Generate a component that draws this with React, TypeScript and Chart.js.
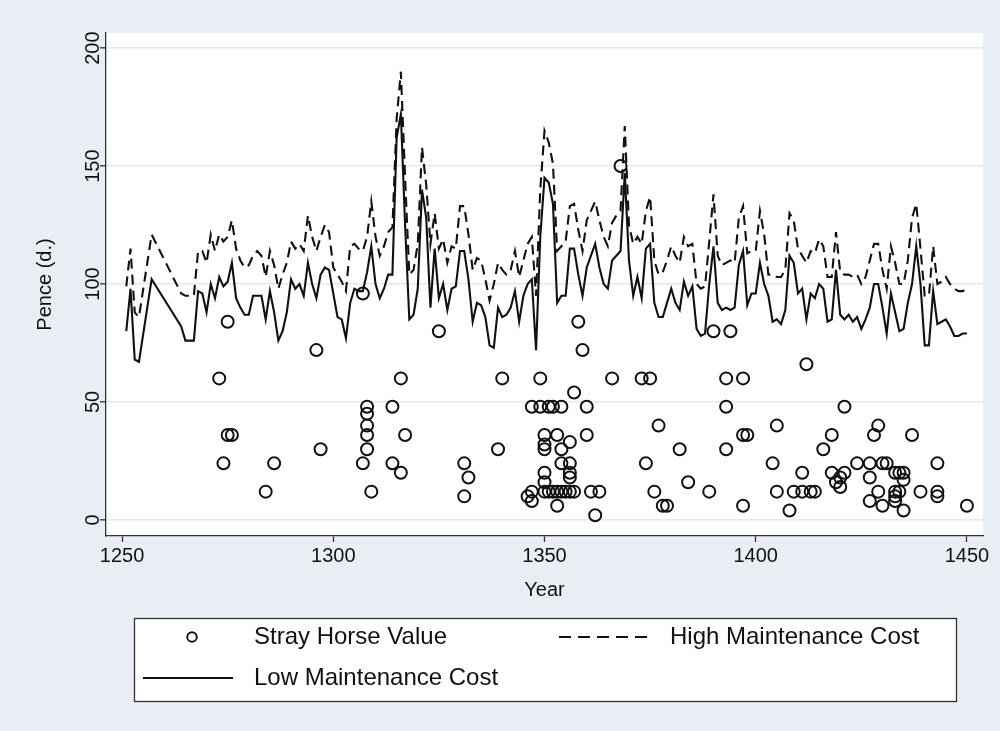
import React, { useEffect, useRef } from 'react';
import { Chart, registerables } from 'chart.js';

Chart.register(...registerables);

const FONT = "'Liberation Sans', Arial, Helvetica, sans-serif";

// ---- Data ----
const earlyYears = [1251, 1252, 1253, 1254, 1257, 1264, 1265, 1267];
const earlyLow = [80, 98, 68, 67, 102, 82, 76, 76];
const earlyHigh = [99, 115, 88, 86, 121, 96, 95, 95];

const annualYears = Array.from({ length: 1450 - 1268 + 1 }, (_, i) => 1268 + i);

// 1268 .. 1450, one value per year
const annualLow = [
  97, 96, 88,                                   // 1268-1270
  100, 94, 103, 99, 101, 109, 94, 90, 87, 87,   // 1271-1280
  95, 95, 95, 85, 97, 88, 76, 80, 88, 102,      // 1281-1290
  98, 100, 95, 109, 100, 94, 104, 107, 106, 96, // 1291-1300
  86, 85, 77, 92, 98, 97, 97, 105, 116, 100,    // 1301-1310
  94, 98, 104, 104, 162, 172, 125, 85, 87, 98,  // 1311-1320
  140, 128, 90, 115, 94, 100, 89, 98, 99, 114,  // 1321-1330
  114, 102, 84, 92, 91, 86, 74, 73, 90, 86,     // 1331-1340
  87, 90, 97, 84, 95, 100, 102, 72, 120, 145,   // 1341-1350
  143, 134, 92, 95, 95, 115, 115, 104, 95, 107, // 1351-1360
  112, 117, 107, 100, 98, 110, 112, 114, 147, 110, // 1361-1370
  95, 103, 94, 115, 117, 92, 86, 86, 92, 98,    // 1371-1380
  92, 89, 101, 95, 99, 81, 78, 79, 100, 116,    // 1381-1390
  92, 89, 90, 89, 90, 108, 114, 91, 96, 96,     // 1391-1400
  109, 100, 95, 84, 85, 83, 89, 112, 109, 96,   // 1401-1410
  98, 85, 96, 94, 100, 98, 84, 85, 106, 87,     // 1411-1420
  85, 87, 84, 86, 81, 85, 90, 100, 100, 90,     // 1421-1430
  79, 96, 88, 80, 81, 92, 100, 116, 100, 74,    // 1431-1440
  74, 97, 83, 84, 85, 82, 78, 78, 79, 79,       // 1441-1450
];

const annualHigh = [
  114, 114, 109,                                      // 1268-1270
  121, 114, 121, 118, 120, 127, 115, 110, 107, 108,   // 1271-1280
  112, 114, 112, 103, 114, 108, 98, 104, 109, 118,    // 1281-1290
  115, 117, 114, 129, 120, 114, 120, 125, 122, 107,   // 1291-1300
  104, 101, 97, 116, 117, 115, 114, 120, 135, 120,    // 1301-1310
  112, 116, 122, 124, 170, 190, 145, 104, 106, 117,   // 1311-1320
  158, 142, 117, 130, 115, 119, 109, 116, 115, 133,   // 1321-1330
  133, 121, 106, 111, 110, 102, 93, 100, 109, 106,    // 1331-1340
  104, 106, 114, 103, 110, 117, 120, 95, 140, 165,    // 1341-1350
  160, 151, 114, 116, 118, 133, 134, 123, 114, 127,   // 1351-1360
  131, 135, 127, 120, 116, 126, 129, 131, 167, 125,   // 1361-1370
  117, 120, 117, 131, 137, 110, 104, 105, 110, 116,   // 1371-1380
  112, 109, 120, 116, 117, 100, 98, 99, 118, 138,     // 1381-1390
  112, 108, 109, 110, 109, 128, 133, 113, 114, 114,   // 1391-1400
  131, 121, 104, 104, 103, 103, 106, 130, 127, 115,   // 1401-1410
  112, 109, 114, 113, 119, 116, 103, 103, 122, 105,   // 1411-1420
  104, 104, 103, 104, 100, 103, 110, 117, 117, 106,   // 1421-1430
  98, 116, 109, 100, 100, 110, 128, 134, 115, 95,     // 1431-1440
  95, 116, 100, 101, 103, 100, 98, 97, 97, 98,        // 1441-1450
];

const lineYears = [...earlyYears, ...annualYears];
const lowCost = [...earlyLow, ...annualLow];
const highCost = [...earlyHigh, ...annualHigh];

const strayYears = [
  1273, 1274, 1275, 1275, 1276, 1284, 1286, 1296, 1297, 1307,
  1307, 1308, 1308, 1308, 1308, 1308, 1309, 1314, 1314, 1316,
  1316, 1317, 1325, 1331, 1331, 1332, 1339, 1340, 1346, 1347,
  1347, 1347, 1349, 1349, 1350, 1350, 1350, 1350, 1350, 1350,
  1351, 1351, 1352, 1352, 1353, 1353, 1353, 1354, 1354, 1354,
  1354, 1355, 1356, 1356, 1356, 1356, 1356, 1357, 1357, 1358,
  1359, 1360, 1360, 1361, 1362, 1363, 1366, 1368, 1373, 1374,
  1375, 1376, 1377, 1378, 1379, 1382, 1384, 1389, 1390, 1393,
  1393, 1393, 1394, 1397, 1397, 1397, 1398, 1404, 1405, 1405,
  1408, 1409, 1411, 1411, 1412, 1413, 1414, 1416, 1418, 1418,
  1419, 1420, 1420, 1421, 1421, 1424, 1427, 1427, 1427, 1428,
  1429, 1429, 1430, 1430, 1431, 1433, 1433, 1433, 1433, 1434,
  1434, 1435, 1435, 1435, 1437, 1439, 1443, 1443, 1443, 1450,
];
const strayValues = [
  60, 24, 84, 36, 36, 12, 24, 72, 30, 96,
  24, 48, 45, 40, 36, 30, 12, 48, 24, 60,
  20, 36, 80, 24, 10, 18, 30, 60, 10, 8,
  12, 48, 60, 48, 36, 32, 30, 20, 16, 12,
  48, 12, 48, 12, 36, 12, 6, 48, 30, 24,
  12, 12, 33, 24, 20, 18, 12, 54, 12, 84,
  72, 48, 36, 12, 2, 12, 60, 150, 60, 24,
  60, 12, 40, 6, 6, 30, 16, 12, 80, 60,
  48, 30, 80, 60, 36, 6, 36, 24, 40, 12,
  4, 12, 20, 12, 66, 12, 12, 30, 36, 20,
  16, 14, 18, 20, 48, 24, 24, 18, 8, 36,
  40, 12, 24, 6, 24, 20, 12, 10, 8, 20,
  12, 20, 17, 4, 36, 12, 24, 12, 10, 6,
];

const xTicks = [1250, 1300, 1350, 1400, 1450];
const yTicks = [0, 50, 100, 150, 200];
const legendLabels = ['Stray Horse Value', 'High Maintenance Cost', 'Low Maintenance Cost'];
const xTitle = 'Year';
const yTitle = 'Pence (d.)';

const W = 1000;
const H = 731;
const INK = '#111111';

const bgPlugin = {
  id: 'stataBg',
  beforeDraw(chart: any) {
    const { ctx, chartArea: a } = chart;
    ctx.save();
    ctx.fillStyle = '#e9eef4';
    ctx.fillRect(0, 0, chart.width, chart.height);
    ctx.fillStyle = '#ffffff';
    ctx.fillRect(a.left, a.top, a.right - a.left, a.bottom - a.top);
    ctx.restore();
  },
};

const legendPlugin = {
  id: 'stataLegend',
  afterDraw(chart: any) {
    const ctx = chart.ctx;
    const bx = 134, by = 618, bw = 822, bh = 83;
    const row1 = 637, row2 = 678;
    ctx.save();
    ctx.fillStyle = '#ffffff';
    ctx.fillRect(bx, by, bw, bh);
    ctx.strokeStyle = '#333333';
    ctx.lineWidth = 1.3;
    ctx.strokeRect(bx + 0.5, by + 0.5, bw, bh);

    ctx.strokeStyle = INK;
    ctx.lineWidth = 1.9;
    ctx.beginPath();
    ctx.arc(192, row1, 4.8, 0, Math.PI * 2);
    ctx.stroke();

    ctx.lineWidth = 2.1;
    ctx.setLineDash([12, 7]);
    ctx.beginPath();
    ctx.moveTo(559, row1);
    ctx.lineTo(654, row1);
    ctx.stroke();
    ctx.setLineDash([]);
    ctx.beginPath();
    ctx.moveTo(143, row2);
    ctx.lineTo(233, row2);
    ctx.stroke();

    ctx.fillStyle = INK;
    ctx.font = `24px ${FONT}`;
    ctx.textAlign = 'left';
    ctx.textBaseline = 'middle';
    ctx.fillText(legendLabels[0], 254, row1);
    ctx.fillText(legendLabels[1], 670, row1);
    ctx.fillText(legendLabels[2], 254, row2);
    ctx.restore();
  },
};

export default function App() {
  const ref = useRef<HTMLCanvasElement | null>(null);

  useEffect(() => {
    if (!ref.current) return;
    const chart = new Chart(ref.current, {
      type: 'scatter',
      data: {
        datasets: [
          {
            label: legendLabels[1],
            data: lineYears.map((x, i) => ({ x, y: highCost[i] })),
            showLine: true,
            borderColor: INK,
            borderWidth: 2.1,
            borderDash: [10, 6],
            pointRadius: 0,
            fill: false,
            tension: 0,
          } as any,
          {
            label: legendLabels[2],
            data: lineYears.map((x, i) => ({ x, y: lowCost[i] })),
            showLine: true,
            borderColor: INK,
            borderWidth: 2.1,
            pointRadius: 0,
            fill: false,
            tension: 0,
          } as any,
          {
            label: legendLabels[0],
            data: strayYears.map((x, i) => ({ x, y: strayValues[i] })),
            showLine: false,
            pointStyle: 'circle',
            pointRadius: 6,
            pointBorderWidth: 2,
            borderColor: INK,
            backgroundColor: 'rgba(0,0,0,0)',
          } as any,
        ],
      },
      options: {
        animation: false,
        responsive: false,
        maintainAspectRatio: false,
        layout: { padding: { left: 0, top: 33, right: 17, bottom: 0 } },
        plugins: { legend: { display: false }, tooltip: { enabled: false }, title: { display: false } },
        scales: {
          x: {
            type: 'linear',
            position: 'bottom',
            min: 1246.2,
            max: 1453.8,
            afterBuildTicks: (s: any) => { s.ticks = xTicks.map((v) => ({ value: v })); },
            afterFit: (s: any) => { s.height = 195; },
            ticks: {
              font: { family: FONT, size: 20 },
              color: INK,
              padding: 2,
              maxRotation: 0,
              minRotation: 0,
              callback: (v: any) => String(v),
            },
            grid: { drawOnChartArea: false, drawTicks: true, tickLength: 6, tickColor: '#333', tickWidth: 1.3 },
            border: { display: true, color: '#333', width: 1.3 },
            title: {
              display: true,
              text: xTitle,
              color: INK,
              font: { family: FONT, size: 20 },
              padding: { top: 0, bottom: 129 },
            },
          },
          y: {
            type: 'linear',
            position: 'left',
            min: -6.8,
            max: 206.4,
            afterBuildTicks: (s: any) => { s.ticks = yTicks.map((v) => ({ value: v })); },
            afterFit: (s: any) => { s.width = 106; },
            ticks: {
              font: { family: FONT, size: 20 },
              color: INK,
              padding: -10,
              minRotation: 90,
              maxRotation: 90,
              crossAlign: 'center',
              callback: (v: any) => String(v),
            },
            grid: { color: '#e8e8e8', lineWidth: 1.6, drawTicks: true, tickLength: 6, tickColor: '#333', tickWidth: 1.3 },
            border: { display: true, color: '#333', width: 1.3 },
            title: {
              display: true,
              text: yTitle,
              color: INK,
              font: { family: FONT, size: 20 },
              padding: { top: 33, bottom: 0 },
            },
          },
        },
      } as any,
      plugins: [bgPlugin, legendPlugin],
    });
    return () => chart.destroy();
  }, []);

  return (
    <div style={{ position: 'fixed', left: 0, top: 0, width: W, height: H }}>
      <canvas ref={ref} width={W} height={H} style={{ display: 'block', width: W, height: H }} />
    </div>
  );
}
